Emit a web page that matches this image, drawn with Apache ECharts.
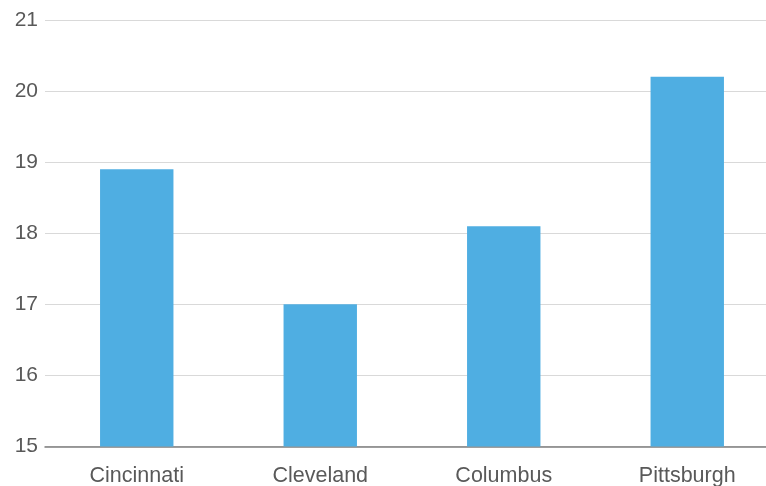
<!DOCTYPE html>
<html>
<head>
<meta charset="utf-8">
<script src="https://cdn.jsdelivr.net/npm/echarts@6/dist/echarts.min.js"></script>
<style>
  html, body { margin: 0; padding: 0; background: #ffffff; }
  #chart { width: 766px; height: 486px; }
</style>
</head>
<body>
<div id="chart"></div>
<script>
// City values
const cities = ['Cincinnati', 'Cleveland', 'Columbus', 'Pittsburgh'];
const values = [18.9, 17.0, 18.1, 20.2];
const yTicks = [15, 16, 17, 18, 19, 20, 21];

const chart = echarts.init(document.getElementById('chart'));
chart.setOption({
  animation: false,
  grid: { left: 45, width: 734, top: 20, height: 426.5, outerBoundsMode: 'none', containLabel: false },
  xAxis: {
    type: 'category',
    data: cities,
    axisTick: { show: false },
    axisLine: { lineStyle: { color: '#7f7f7f', width: 1.5 } },
    axisLabel: {
      color: '#595959',
      fontFamily: 'Liberation Sans, Arial, sans-serif',
      fontSize: 21.5,
      margin: 19
    }
  },
  yAxis: {
    type: 'value',
    min: yTicks[0],
    max: yTicks[yTicks.length - 1],
    interval: 1,
    axisLine: { show: false },
    axisTick: { show: false },
    splitLine: { lineStyle: { color: '#d9d9d9', width: 1 } },
    axisLabel: {
      color: '#595959',
      fontFamily: 'Liberation Sans, Arial, sans-serif',
      fontSize: 21,
      margin: 7,
      verticalAlign: 'middle',
      lineHeight: 21,
      padding: [4, 0, 0, 0]
    }
  },
  series: [{
    type: 'bar',
    data: values,
    barWidth: '40%',
    itemStyle: { color: '#4FAEE2' }
  }]
});
</script>
</body>
</html>
